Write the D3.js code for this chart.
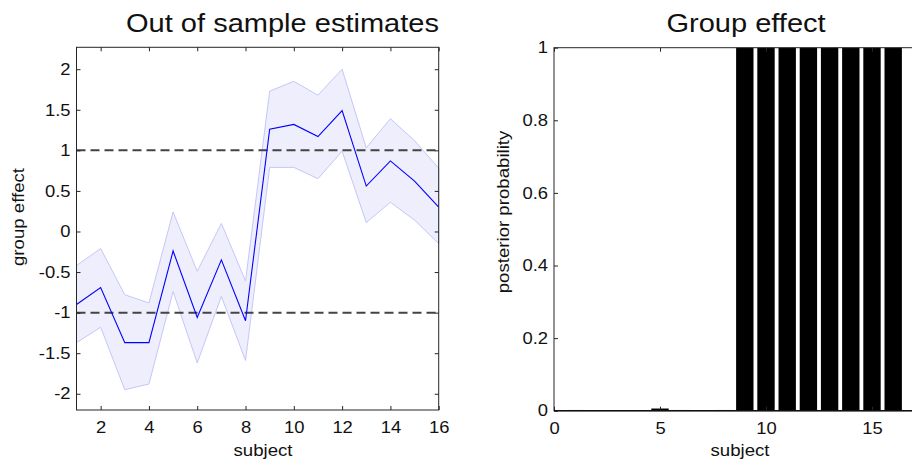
<!DOCTYPE html>
<html lang="en">
<head>
    <meta charset="UTF-8">
    <title>Out of sample estimates / Group effect</title>
    <script src="https://d3js.org/d3.v7.min.js"></script>
    <style>
        body { margin: 0; background: #fff; }
        svg { display: block; background: #fff; }
        text {
            font-family: "Liberation Sans", Arial, Helvetica, sans-serif;
            fill: #111;
        }
        .axis line { stroke: #262626; }
        .axis path { display: none; }
        .frame { fill: none; stroke: #262626; stroke-width: 1; }
    </style>
</head>
<body>
    <svg width="912" height="463"></svg>
    <script>
        // subjects 1..16
        const subjects = [1, 2, 3, 4, 5, 6, 7, 8, 9, 10, 11, 12, 13, 14, 15, 16];

        // out of sample estimates (mean and credible band)
        const meanEffect = [-0.90, -0.69, -1.37, -1.37, -0.24, -1.06, -0.35, -1.10,
                            1.26, 1.32, 1.17, 1.49, 0.56, 0.87, 0.62, 0.30];
        const upperBound = [-0.42, -0.21, -0.78, -0.88, 0.24, -0.49, 0.10, -0.61,
                            1.73, 1.85, 1.68, 2.00, 1.03, 1.39, 1.12, 0.78];
        const lowerBound = [-1.37, -1.18, -1.95, -1.88, -0.74, -1.62, -0.80, -1.59,
                            0.79, 0.79, 0.65, 0.99, 0.11, 0.36, 0.14, -0.15];
        const thresholds = [-1, 1];

        // posterior probability of group membership
        const posteriorProb = [0.002, 0.001, 0.001, 0.001, 0.006, 0.002, 0.001, 0.002,
                               1, 1, 1, 1, 1, 1, 1, 1];

        const leftXTicks = [2, 4, 6, 8, 10, 12, 14, 16];
        const leftYTicks = [-2, -1.5, -1, -0.5, 0, 0.5, 1, 1.5, 2];
        const rightXTicks = [0, 5, 10, 15];
        const rightYTicks = [0, 0.2, 0.4, 0.6, 0.8, 1];

        const svg = d3.select("svg");
        const SX = 1.13; // the text in the figure is slightly wide

        function label(x, y, str, size, rot) {
            svg.append("text")
                .attr("transform", `translate(${x},${y})` + (rot ? " rotate(-90)" : "") + ` scale(${SX},1)`)
                .attr("text-anchor", "middle")
                .style("font-size", size + "px")
                .text(str);
        }

        function stretchTicks(g) {
            g.selectAll(".tick text")
                .style("font-size", "16.3px")
                .attr("transform", `scale(${SX},1)`)
                .attr("x", function() { return +d3.select(this).attr("x") / SX; });
        }

        const fmt = d => String(d).replace("−", "-");

        // ---------- left panel ----------
        const L = { left: 76.5, right: 438.7, top: 47.3, bottom: 410 };
        const xL = d3.scaleLinear().domain([1, 16]).range([L.left, L.right]);
        const yL = d3.scaleLinear().domain([-2.2, 2.27]).range([L.bottom, L.top]);

        const area = d3.area()
            .x((d, i) => xL(subjects[i]))
            .y0((d, i) => yL(lowerBound[i]))
            .y1((d, i) => yL(upperBound[i]));

        svg.append("path")
            .datum(subjects)
            .attr("d", area)
            .attr("fill", "rgb(238,238,252)")
            .attr("stroke", "rgb(198,198,248)")
            .attr("stroke-width", 1);

        svg.selectAll(".thr")
            .data(thresholds)
            .enter().append("line")
            .attr("x1", L.left).attr("x2", L.right)
            .attr("y1", d => yL(d)).attr("y2", d => yL(d))
            .attr("stroke", "#444")
            .attr("stroke-width", 2)
            .attr("stroke-dasharray", "9,5");

        const line = d3.line()
            .x((d, i) => xL(subjects[i]))
            .y(d => yL(d));

        svg.append("path")
            .datum(meanEffect)
            .attr("d", line)
            .attr("fill", "none")
            .attr("stroke", "#0000ff")
            .attr("stroke-width", 1.1);

        svg.append("g").attr("class", "axis")
            .attr("transform", `translate(0,${L.bottom})`)
            .call(d3.axisBottom(xL).tickValues(leftXTicks).tickSizeInner(-4).tickSizeOuter(0).tickPadding(11))
            .call(stretchTicks);
        svg.append("g").attr("class", "axis")
            .attr("transform", `translate(0,${L.top})`)
            .call(d3.axisTop(xL).tickValues(leftXTicks).tickSizeInner(-4).tickSizeOuter(0).tickFormat(""));
        svg.append("g").attr("class", "axis")
            .attr("transform", `translate(${L.left},0)`)
            .call(d3.axisLeft(yL).tickValues(leftYTicks).tickSizeInner(-4).tickSizeOuter(0).tickPadding(6).tickFormat(fmt))
            .call(stretchTicks);
        svg.append("g").attr("class", "axis")
            .attr("transform", `translate(${L.right},0)`)
            .call(d3.axisRight(yL).tickValues(leftYTicks).tickSizeInner(-4).tickSizeOuter(0).tickFormat(""));

        svg.append("rect").attr("class", "frame")
            .attr("x", L.left).attr("y", L.top)
            .attr("width", L.right - L.left).attr("height", L.bottom - L.top);

        label(282.5, 31.7, "Out of sample estimates", 25.7, false);
        label(263, 456.3, "subject", 16.5, false);
        label(24, 217, "group effect", 16.5, true);

        // ---------- right panel ----------
        const R = { left: 554, right: 935.6, top: 47.7, bottom: 410.7 };
        const xR = d3.scaleLinear().domain([0, 18]).range([R.left, R.right]);
        const yR = d3.scaleLinear().domain([0, 1]).range([R.bottom, R.top]);

        svg.append("g")
            .selectAll("rect")
            .data(posteriorProb)
            .enter().append("rect")
            .attr("x", (d, i) => xR(subjects[i] - 0.41))
            .attr("width", xR(0.82) - xR(0))
            .attr("y", d => yR(d))
            .attr("height", d => yR(0) - yR(d))
            .attr("fill", "#000");

        svg.append("g").attr("class", "axis")
            .attr("transform", `translate(0,${R.bottom})`)
            .call(d3.axisBottom(xR).tickValues(rightXTicks).tickSizeInner(-4).tickSizeOuter(0).tickPadding(12))
            .call(stretchTicks);
        svg.append("g").attr("class", "axis")
            .attr("transform", `translate(0,${R.top})`)
            .call(d3.axisTop(xR).tickValues(rightXTicks).tickSizeInner(-4).tickSizeOuter(0).tickFormat(""));
        svg.append("g").attr("class", "axis")
            .attr("transform", `translate(${R.left},0)`)
            .call(d3.axisLeft(yR).tickValues(rightYTicks).tickSizeInner(-4).tickSizeOuter(0).tickPadding(6).tickFormat(d => String(d)))
            .call(stretchTicks);

        svg.append("rect").attr("class", "frame")
            .attr("x", R.left).attr("y", R.top)
            .attr("width", R.right - R.left).attr("height", R.bottom - R.top);
        svg.append("line")
            .attr("x1", R.left).attr("x2", R.right)
            .attr("y1", R.bottom).attr("y2", R.bottom)
            .attr("stroke", "#111").attr("stroke-width", 1.5);

        label(746, 31.7, "Group effect", 25.7, false);
        label(740, 456.3, "subject", 16.5, false);
        label(509, 212, "posterior probability", 16.5, true);
    </script>
</body>
</html>
